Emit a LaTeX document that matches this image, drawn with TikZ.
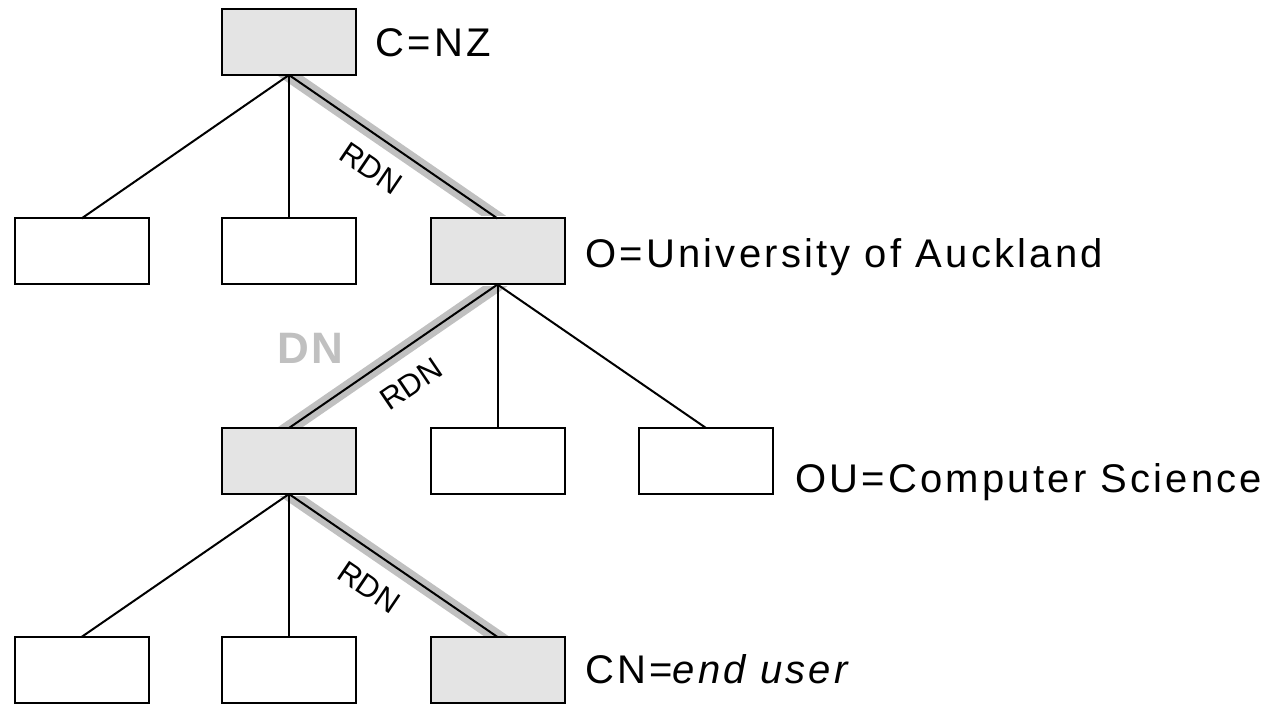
\documentclass[tikz,border=0pt]{standalone}
\usepackage{fontspec}
\setmainfont{Liberation Sans}
\definecolor{boxgrey}{HTML}{E4E4E4}
\definecolor{bandgrey}{HTML}{C0C0C0}
\begin{document}
\begin{tikzpicture}[x=0.5pt,y=-0.5pt,
  entrybox/.style={draw=black,line width=1pt,fill=white,minimum width=67pt,minimum height=33pt,inner sep=0pt,outer sep=0pt},
  pathbox/.style={entrybox,fill=boxgrey},
  treeline/.style={draw=black,line width=1pt},
  dnband/.style={draw=bandgrey,line width=7pt,line cap=butt,shorten <=-10pt,shorten >=-10pt},
  lbl/.style={anchor=base west,inner sep=0pt,font=\fontsize{20pt}{24pt}\selectfont\addfontfeature{LetterSpace=8}},
  rdn/.style={inner sep=0pt,font=\fontsize{15.5pt}{17pt}\selectfont}]
\useasboundingbox (0,0) rectangle (1272,705);
% boxes
\node[pathbox]  (c)   at (289,42) {};
\node[entrybox] (o1)  at (81.5,251.5) {};
\node[entrybox] (o2)  at (289,251.5) {};
\node[pathbox]  (o3)  at (497.5,251.5) {};
\node[pathbox]  (u1)  at (289,461) {};
\node[entrybox] (u2)  at (497.5,461) {};
\node[entrybox] (u3)  at (706,461) {};
\node[entrybox] (e1)  at (81.5,670) {};
\node[entrybox] (e2)  at (289,670) {};
\node[pathbox]  (e3)  at (497.5,670) {};
% grey DN bands, clipped to the gaps between rows
\begin{scope}
\clip (0,77) rectangle (1272,216);
\draw[dnband] (c.south) -- (o3.north);
\end{scope}
\begin{scope}
\clip (0,287) rectangle (1272,426);
\draw[dnband] (o3.south) -- (u1.north);
\end{scope}
\begin{scope}
\clip (0,496) rectangle (1272,635);
\draw[dnband] (u1.south) -- (e3.north);
\end{scope}
% connectors
\draw[treeline] (c.south) -- (o1.north);
\draw[treeline] (c.south) -- (o2.north);
\draw[treeline] (c.south) -- (o3.north);
\draw[treeline] (o3.south) -- (u1.north);
\draw[treeline] (o3.south) -- (u2.north);
\draw[treeline] (o3.south) -- (u3.north);
\draw[treeline] (u1.south) -- (e1.north);
\draw[treeline] (u1.south) -- (e2.north);
\draw[treeline] (u1.south) -- (e3.north);
% labels
\node[lbl] (lc) at (375,57) {C=NZ};
\node[lbl] (lo) at (585,268) {O=University of Auckland};
\node[lbl] (lu) at (795,492) {OU=Computer Science};
\node[lbl] (le) at (585,683) {CN=\textit{end user}};
\node[rdn,rotate=-34.1] (r1) at (371,168) {RDN};
\node[rdn,rotate=34.1]  (r2) at (411,384) {RDN};
\node[rdn,rotate=-34.1] (r3) at (369,587) {RDN};
\node[anchor=base west,inner sep=0pt,text=bandgrey,font=\fontsize{22pt}{26pt}\selectfont\bfseries\addfontfeature{LetterSpace=6}] (dn) at (277,363) {DN};
\end{tikzpicture}
\end{document}
